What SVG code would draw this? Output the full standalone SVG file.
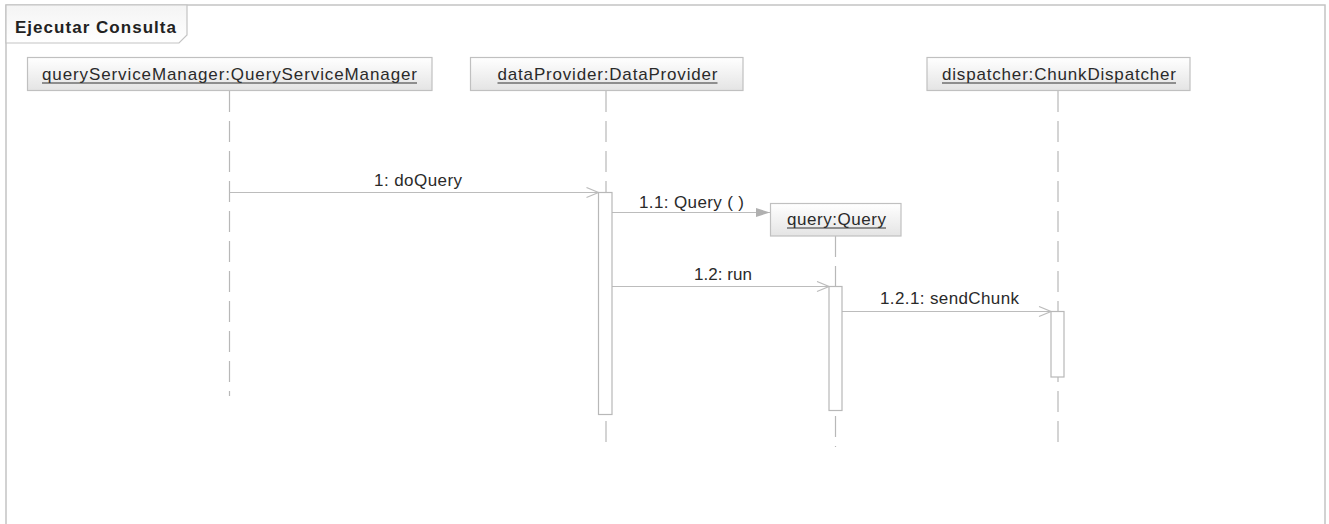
<svg xmlns="http://www.w3.org/2000/svg" width="1329" height="524" viewBox="0 0 1329 524">
<style>
  .frame { fill: none; stroke: #c4c4c4; stroke-width: 1.5; }
  .box { stroke: #c0c0c0; stroke-width: 1.2; fill: url(#boxGrad); }
  .life { stroke: #b8b8b8; stroke-width: 1.2; fill: none; stroke-dasharray: 21 9; }
  .act { fill: #ffffff; stroke: #b8b8b8; stroke-width: 1.2; }
  .msg { stroke: #bcbcbc; stroke-width: 1.2; fill: none; }
  .lbl { font-family: "Liberation Sans", Arial, sans-serif; font-size: 17px; fill: #2a2a2a; }
  .title { font-family: "Liberation Sans", Arial, sans-serif; font-size: 17px; font-weight: bold; fill: #222222; }
  .ul { stroke: #333333; stroke-width: 1; }
</style>
<defs>
  <linearGradient id="boxGrad" x1="0" y1="0" x2="0" y2="1">
    <stop offset="0" stop-color="#ffffff"/>
    <stop offset="1" stop-color="#e4e4e4"/>
  </linearGradient>
  <linearGradient id="tabGrad" x1="0" y1="0" x2="0" y2="1">
    <stop offset="0" stop-color="#f4f4f4"/>
    <stop offset="1" stop-color="#ffffff"/>
  </linearGradient>
  <marker id="open" markerWidth="14" markerHeight="12" refX="13" refY="6" orient="auto" markerUnits="userSpaceOnUse">
    <path d="M1,1 L13,6 L1,11" fill="none" stroke="#bcbcbc" stroke-width="1.2"/>
  </marker>
  <marker id="filled" markerWidth="15" markerHeight="12" refX="14" refY="6" orient="auto" markerUnits="userSpaceOnUse">
    <path d="M0,1.5 L14,6 L0,10.5 Z" fill="#b0b0b0" stroke="none"/>
  </marker>
</defs>

<g id="frame">
  <path class="frame" d="M6,530 L6,5 L1325,5 L1325,530"/>
  <path d="M6,5 L187,5 L187,35 L179,43 L6,43 Z" fill="url(#tabGrad)" stroke="#c4c4c4" stroke-width="1.2"/>
  <text class="title" x="15" y="33" textLength="161" lengthAdjust="spacing">Ejecutar Consulta</text>
</g>

<g id="connectors">
  <line class="life" x1="229.5" y1="91" x2="229.5" y2="396"/>
  <line class="life" x1="606" y1="91" x2="606" y2="451"/>
  <line class="life" x1="835.5" y1="236" x2="835.5" y2="447"/>
  <line class="life" x1="1058" y1="91" x2="1058" y2="450"/>
  <line class="msg" x1="229.5" y1="192.5" x2="598.5" y2="192.5" marker-end="url(#open)"/>
  <line class="msg" x1="612" y1="212.5" x2="770" y2="212.5" marker-end="url(#filled)"/>
  <line class="msg" x1="612" y1="286.5" x2="829" y2="286.5" marker-end="url(#open)"/>
  <line class="msg" x1="842" y1="311.5" x2="1051" y2="311.5" marker-end="url(#open)"/>
  <text class="lbl" x="374" y="185.5" textLength="88" lengthAdjust="spacing">1: doQuery</text>
  <text class="lbl" x="639" y="207.5" textLength="105" lengthAdjust="spacing">1.1: Query ( )</text>
  <text class="lbl" x="694" y="279.5" textLength="58" lengthAdjust="spacing">1.2: run</text>
  <text class="lbl" x="880" y="303.5" textLength="139" lengthAdjust="spacing">1.2.1: sendChunk</text>
</g>

<g id="queryServiceManager">
  <rect class="box" x="27.5" y="57.5" width="404.5" height="33"/>
  <text class="lbl" x="42" y="79.5" textLength="375" lengthAdjust="spacing">queryServiceManager:QueryServiceManager</text>
  <line class="ul" x1="42" y1="83" x2="417" y2="83"/>
</g>

<g id="dataProvider">
  <rect class="box" x="470.5" y="57.5" width="272.5" height="33"/>
  <text class="lbl" x="497.5" y="79.5" textLength="220" lengthAdjust="spacing">dataProvider:DataProvider</text>
  <line class="ul" x1="497.5" y1="83" x2="717.5" y2="83"/>
  <rect class="act" x="598.5" y="192.5" width="13.5" height="222"/>
</g>

<g id="dispatcher">
  <rect class="box" x="927" y="57.5" width="263" height="33"/>
  <text class="lbl" x="942" y="79.5" textLength="234" lengthAdjust="spacing">dispatcher:ChunkDispatcher</text>
  <line class="ul" x1="942" y1="83" x2="1176" y2="83"/>
  <rect class="act" x="1051" y="311.5" width="13" height="65.5"/>
</g>

<g id="query">
  <rect class="box" x="770.5" y="203.5" width="130.5" height="32.5"/>
  <text class="lbl" x="787" y="224.5" textLength="99" lengthAdjust="spacing">query:Query</text>
  <line class="ul" x1="787" y1="228" x2="886" y2="228"/>
  <rect class="act" x="829" y="286.5" width="13" height="124"/>
</g>
</svg>
